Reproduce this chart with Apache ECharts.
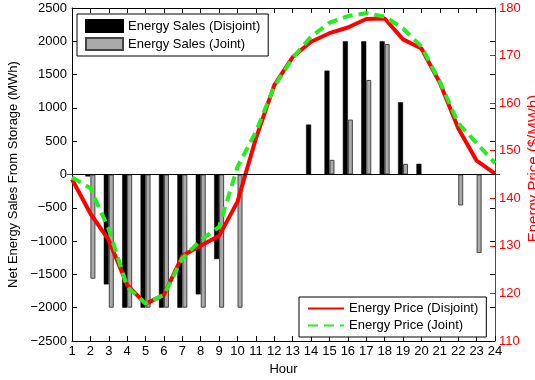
<!DOCTYPE html>
<html>
<head>
<meta charset="utf-8">
<script src="https://cdn.jsdelivr.net/npm/echarts@6/dist/echarts.min.js"></script>
<style>
html,body{margin:0;padding:0;background:#fff;}
#c{width:535px;height:380px;}
</style>
</head>
<body>
<div id="c"></div>
<script>
var hours = [1,2,3,4,5,6,7,8,9,10,11,12,13,14,15,16,17,18,19,20,21,22,23,24];
var salesDisjoint = [0,-30,-1650,-2000,-2000,-2000,-2000,-1800,-1270,0,0,0,0,750,1560,2000,2000,2000,1085,160,0,0,0,0];
var salesJoint = [0,-1565,-2000,-2000,-2000,-2000,-2000,-2000,-2000,-2000,0,0,0,0,220,825,1420,1960,160,0,0,-465,-1180,0];
var priceDisjoint = [144.0,136.8,131.2,121.8,117.8,119.7,127.9,130.0,132.1,139.3,152.6,163.8,169.7,172.9,174.7,175.9,177.7,177.8,173.4,171.5,164.3,154.7,147.9,145.2];
var priceJoint = [144.4,142.1,133.5,121.4,117.9,119.7,127.4,131.2,134.0,146.6,154.0,163.5,169.5,174.0,176.9,178.3,178.9,178.2,175.7,171.9,164.5,155.8,151.6,147.4];

function pairs(xs, ys){ return xs.map(function(x,i){ return [x, ys[i]]; }); }

var FONT = "'Liberation Sans', Arial, sans-serif";
var chart = echarts.init(document.getElementById('c'), null, {renderer:'canvas'});
chart.setOption({
  animation:false,
  backgroundColor:'#fff',
  textStyle:{fontFamily:FONT},
  grid:{left:72, right:40, top:8, bottom:39, containLabel:false, outerBoundsMode:'none'},
  legend:[
    {
      data:[{name:'Energy Sales (Disjoint)', icon:'rect'},{name:'Energy Sales (Joint)', icon:'rect'}],
      orient:'vertical', left:77, top:14,
      itemWidth:37, itemHeight:12, itemGap:4,
      padding:[5,8,5,8],
      borderColor:'#000', borderWidth:1, backgroundColor:'#fff', borderRadius:0,
      textStyle:{fontFamily:FONT, fontSize:13, color:'#000'},
      selectedMode:false
    },
    {
      data:[{name:'Energy Price (Disjoint)', itemStyle:{opacity:0}},{name:'Energy Price (Joint)', itemStyle:{opacity:0}}],
      orient:'vertical', left:299, top:297,
      itemWidth:36, itemHeight:12, itemGap:4,
      padding:[5,8,5,8],
      borderColor:'#000', borderWidth:1, backgroundColor:'#fff', borderRadius:0,
      textStyle:{fontFamily:FONT, fontSize:13, color:'#000'},
      selectedMode:false
    }
  ],
  xAxis:[
    {
      type:'value', min:1, max:24, interval:1, position:'bottom',
      name:'Hour', nameLocation:'middle', nameGap:22,
      nameTextStyle:{fontFamily:FONT, fontSize:13, color:'#000'},
      axisLine:{show:true, onZero:false, lineStyle:{color:'#000', width:1}},
      axisTick:{show:true, inside:true, length:5, lineStyle:{color:'#000'}},
      axisLabel:{fontFamily:FONT, fontSize:13, color:'#000', margin:4},
      splitLine:{show:false}
    },
    {
      type:'value', min:1, max:24, interval:1, position:'top',
      axisLine:{show:true, onZero:false, lineStyle:{color:'#000', width:1}},
      axisTick:{show:true, inside:true, length:5, lineStyle:{color:'#000'}},
      axisLabel:{show:false},
      splitLine:{show:false}
    }
  ],
  yAxis:[
    {
      type:'value', min:-2500, max:2500, interval:500, position:'left',
      name:'Net Energy Sales From Storage (MWh)', nameLocation:'middle', nameGap:47,
      nameTextStyle:{fontFamily:FONT, fontSize:13, color:'#000'},
      axisLine:{show:true, onZero:false, lineStyle:{color:'#000', width:1}},
      axisTick:{show:true, inside:true, length:5, lineStyle:{color:'#000'}},
      axisLabel:{fontFamily:FONT, fontSize:13, color:'#000', margin:5,
        formatter:function(v){ return v < 0 ? '\u2212' + Math.abs(v) : String(v); }},
      splitLine:{show:false}
    },
    {
      type:'value', min:110, max:180, interval:10, position:'right',
      name:'Energy Price ($/MWh)', nameLocation:'middle', nameGap:31, nameMoveOverlap:false,
      nameTextStyle:{fontFamily:FONT, fontSize:15, color:'#ff0000', padding:[0,0,0,12]},
      axisLine:{show:true, onZero:false, lineStyle:{color:'#ff0000', width:1}},
      axisTick:{show:true, inside:true, length:5, lineStyle:{color:'#ff0000'}},
      axisLabel:{fontFamily:FONT, fontSize:13, color:'#ff0000', margin:4},
      splitLine:{show:false}
    },
    {
      type:'value', min:-2500, max:2500, interval:500, position:'right',
      axisLine:{show:false},
      axisTick:{show:true, inside:true, length:5, lineStyle:{color:'#000'}},
      axisLabel:{show:false},
      splitLine:{show:false}
    }
  ],
  series:[
    {
      name:'Energy Sales (Disjoint)', type:'bar', xAxisIndex:0, yAxisIndex:0,
      data:pairs(hours, salesDisjoint),
      barWidth:5, barGap:'0%',
      itemStyle:{color:'#000', borderColor:'#000', borderWidth:0.5},
      markLine:{silent:true, symbol:'none', label:{show:false},
        lineStyle:{color:'#000', width:1, type:'solid'},
        data:[{yAxis:0}]}
    },
    {
      name:'Energy Sales (Joint)', type:'bar', xAxisIndex:0, yAxisIndex:0,
      data:pairs(hours, salesJoint),
      barWidth:5, barGap:'0%',
      itemStyle:{color:'#aaaaaa', borderColor:'#444', borderWidth:1}
    },
    {
      name:'Energy Price (Disjoint)', type:'line', xAxisIndex:0, yAxisIndex:1,
      data:pairs(hours, priceDisjoint),
      symbol:'none', showSymbol:false,
      lineStyle:{color:'#ff0000', width:4},
      itemStyle:{color:'#ff0000'}
    },
    {
      name:'Energy Price (Joint)', type:'line', xAxisIndex:0, yAxisIndex:1,
      data:pairs(hours, priceJoint),
      symbol:'none', showSymbol:false,
      lineStyle:{color:'#22ee22', width:4, type:[10,6]},
      itemStyle:{color:'#22ee22'}
    }
  ]
});
</script>
</body>
</html>
